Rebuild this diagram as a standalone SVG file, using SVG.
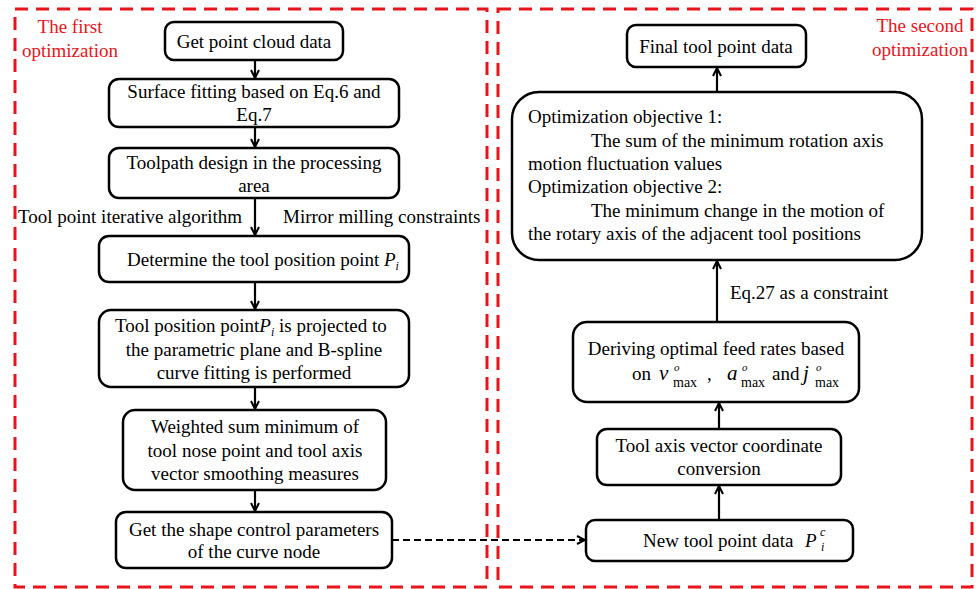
<svg xmlns="http://www.w3.org/2000/svg" width="976" height="589" viewBox="0 0 976 589">
<defs>
<style>
text{font-family:"Liberation Serif","Times New Roman",serif;font-size:19px;fill:#000}
.c{text-anchor:middle}
.red{fill:#e8141c}
.frame{fill:none;stroke:#e8141c;stroke-width:3;stroke-dasharray:13 8}
.box{fill:#fff;stroke:#000;stroke-width:2.5}
.ln{fill:none;stroke:#000;stroke-width:2.2}
.dash{fill:none;stroke:#000;stroke-width:2.2;stroke-dasharray:7 4}
.it{font-style:italic}
.sm{font-size:12px}
.sup{font-size:11px;font-style:italic}
.sub{font-size:14px;font-style:normal}
.var{font-size:21px;font-style:italic}
</style>
<marker id="ah" viewBox="0 0 10 10" refX="9" refY="5" markerWidth="10" markerHeight="10" markerUnits="userSpaceOnUse" orient="auto">
<path d="M1,1 L9,5 L1,9" fill="none" stroke="#000" stroke-width="2"/>
</marker>
</defs>
<g id="frame-first">
<rect class="frame" x="15" y="9" width="472" height="578"/>
<text class="red c" x="70" y="33">The first</text>
<text class="red c" x="70" y="57">optimization</text>
</g>
<g id="frame-second">
<rect class="frame" x="498" y="9" width="474" height="578"/>
<text class="red c" x="920" y="32">The second</text>
<text class="red c" x="920" y="56">optimization</text>
</g>
<g id="connectors">
<line class="ln" x1="255" y1="60" x2="255" y2="78" marker-end="url(#ah)"/>
<line class="ln" x1="255" y1="127" x2="255" y2="147" marker-end="url(#ah)"/>
<line class="ln" x1="255" y1="198" x2="255" y2="235" marker-end="url(#ah)"/>
<line class="ln" x1="255" y1="282" x2="255" y2="309" marker-end="url(#ah)"/>
<line class="ln" x1="255" y1="387" x2="255" y2="409" marker-end="url(#ah)"/>
<line class="ln" x1="255" y1="490" x2="255" y2="511" marker-end="url(#ah)"/>
<line class="dash" x1="392" y1="540" x2="585" y2="540" marker-end="url(#ah)"/>
<line class="ln" x1="719" y1="520" x2="719" y2="486" marker-end="url(#ah)"/>
<line class="ln" x1="719" y1="429" x2="719" y2="403" marker-end="url(#ah)"/>
<line class="ln" x1="717" y1="322" x2="717" y2="261" marker-end="url(#ah)"/>
<line class="ln" x1="717" y1="92" x2="717" y2="68" marker-end="url(#ah)"/>
<text x="730" y="299">Eq.27 as a constraint</text>
<text x="18" y="223">Tool point iterative algorithm</text>
<text x="283" y="223">Mirror milling constraints</text>
</g>
<g id="n1">
<rect class="box" x="165" y="22" width="178" height="38" rx="9"/>
<text class="c" x="254" y="48">Get point cloud data</text>
</g>
<g id="n2">
<rect class="box" x="109" y="79" width="290" height="48" rx="10"/>
<text class="c" x="254" y="98">Surface fitting based on Eq.6 and</text>
<text class="c" x="254" y="121">Eq.7</text>
</g>
<g id="n3">
<rect class="box" x="109" y="148" width="290" height="50" rx="10"/>
<text class="c" x="254" y="169">Toolpath design in the processing</text>
<text class="c" x="254" y="192">area</text>
</g>
<g id="n4">
<rect class="box" x="99" y="236" width="310" height="46" rx="10"/>
<text x="127" y="266">Determine the tool position point <tspan class="it">P</tspan><tspan class="it sm" dy="4">i</tspan></text>
</g>
<g id="n5">
<rect class="box" x="99" y="310" width="310" height="77" rx="12"/>
<text x="115" y="332">Tool position point<tspan class="it">P</tspan><tspan class="it sm" dy="4">i</tspan><tspan dy="-4"> is projected to</tspan></text>
<text class="c" x="254" y="356">the parametric plane and B-spline</text>
<text class="c" x="254" y="379">curve fitting is performed</text>
</g>
<g id="n6">
<rect class="box" x="123" y="410" width="263" height="80" rx="12"/>
<text class="c" x="255" y="433">Weighted sum minimum of</text>
<text class="c" x="255" y="457">tool nose point and tool axis</text>
<text class="c" x="255" y="480">vector smoothing measures</text>
</g>
<g id="n7">
<rect class="box" x="116" y="512" width="276" height="56" rx="10"/>
<text class="c" x="254" y="536">Get the shape control parameters</text>
<text class="c" x="254" y="558">of the curve node</text>
</g>
<g id="n8">
<rect class="box" x="586" y="520" width="267" height="41" rx="9"/>
<text x="643" y="547">New tool point data <tspan class="it" x="805">P</tspan><tspan class="it sm" x="820" y="536">c</tspan><tspan class="it sm" x="821" y="551">i</tspan></text>
</g>
<g id="n9">
<rect class="box" x="597" y="429" width="244" height="56" rx="10"/>
<text class="c" x="719" y="452">Tool axis vector coordinate</text>
<text class="c" x="719" y="475">conversion</text>
</g>
<g id="n10">
<rect class="box" x="573" y="322" width="286" height="80" rx="14"/>
<text class="c" x="716" y="355">Deriving optimal feed rates based</text>
<text x="632" y="380">on<tspan class="var" x="659" y="380">v</tspan><tspan class="sup" x="674" y="371">o</tspan><tspan class="sub" x="673" y="387">max</tspan><tspan x="707" y="380">,</tspan><tspan class="var" x="727" y="380">a</tspan><tspan class="sup" x="742" y="371">o</tspan><tspan class="sub" x="741" y="387">max</tspan><tspan x="772" y="380">and</tspan><tspan class="var" x="803" y="380">j</tspan><tspan class="sup" x="816" y="371">o</tspan><tspan class="sub" x="815" y="387">max</tspan></text>
</g>
<g id="n11">
<rect class="box" x="512" y="92" width="410" height="168" rx="27"/>
<text x="528" y="123">Optimization objective 1:</text>
<text x="591" y="147">The sum of the minimum rotation axis</text>
<text x="528" y="170">motion fluctuation values</text>
<text x="528" y="193">Optimization objective 2:</text>
<text x="591" y="217">The minimum change in the motion of</text>
<text x="528" y="240">the rotary axis of the adjacent tool positions</text>
</g>
<g id="n12">
<rect class="box" x="627" y="25" width="179" height="42" rx="9"/>
<text class="c" x="716" y="53">Final tool point data</text>
</g>
</svg>
